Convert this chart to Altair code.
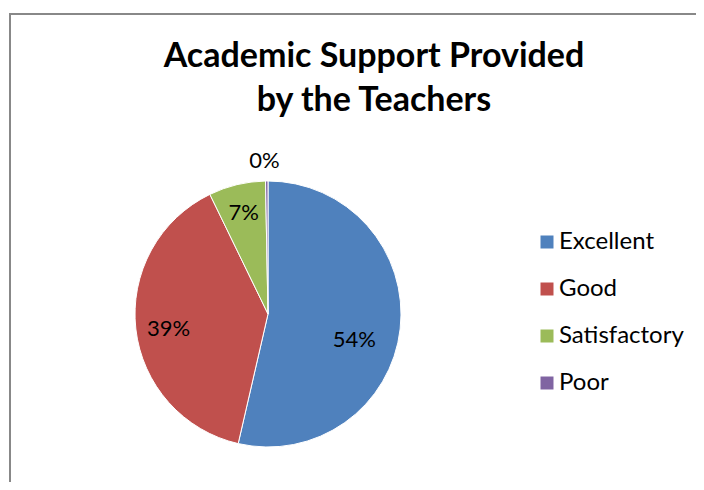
import altair as alt
import pandas as pd

categories = ["Excellent", "Good", "Satisfactory", "Poor"]
values = [53.6, 39.2, 6.9, 0.3]
labels = ["54%", "39%", "7%", "0%"]
colors = ["#4F81BD", "#C0504D", "#9BBB59", "#8064A2"]
title_lines = ["Academic Support Provided", "by the Teachers"]

df = pd.DataFrame({
    "category": categories,
    "value": values,
    "label": labels,
    "idx": list(range(len(categories))),
})

CX, CY, R = 260, 206, 133

base = alt.Chart(df).encode(
    theta=alt.Theta("value:Q", stack=True),
    order=alt.Order("idx:Q"),
    x=alt.value(CX),
    y=alt.value(CY),
)

pie = base.mark_arc(outerRadius=R, stroke="white", strokeWidth=1).encode(
    color=alt.Color(
        "category:N",
        scale=alt.Scale(domain=categories, range=colors),
        sort=categories,
        legend=alt.Legend(
            title=None,
            orient="none",
            legendX=527,
            legendY=122,
            padding=0,
            symbolType="square",
            symbolSize=169,
            symbolStrokeWidth=0,
            labelFont="Lato",
            labelFontSize=24,
            labelColor="black",
            labelOffset=0,
            rowPadding=23,
        ),
    )
)


def label_layer(cat, radius, dx=0, dy=0):
    return base.mark_text(
        radius=radius, dx=dx, dy=dy, font="Lato", fontSize=22, color="black"
    ).encode(
        text=alt.condition(f"datum.category == '{cat}'", "label:N", alt.value(""))
    )


texts = [
    label_layer("Excellent", 90, -3, 16),
    label_layer("Good", 100, 0, 4),
    label_layer("Satisfactory", 104),
    label_layer("Poor", 153, -2),
]

frame_h = alt.Chart(df.head(1)).mark_rule(color="#888888", strokeWidth=2).encode(
    x=alt.value(2), x2=alt.value(700), y=alt.value(-94)
)
frame_v = alt.Chart(df.head(1)).mark_rule(color="#888888", strokeWidth=2).encode(
    x=alt.value(2), y=alt.value(-95), y2=alt.value(380)
)

chart = alt.layer(frame_h, frame_v, pie, *texts).properties(
    width=688,
    height=374,
    padding={"left": 0, "top": 100, "right": 0, "bottom": 0},
    autosize=alt.AutoSizeParams(type="none"),
    title=alt.TitleParams(
        text=title_lines,
        font="Lato",
        fontSize=34,
        fontWeight="bold",
        color="black",
        lineHeight=44,
        anchor="middle",
        frame="group",
        baseline="alphabetic",
        dx=22,
        dy=133,
        offset=0,
    ),
).configure_view(stroke=None)

chart.save("out.html", embed_options={"renderer": "svg", "actions": False})
